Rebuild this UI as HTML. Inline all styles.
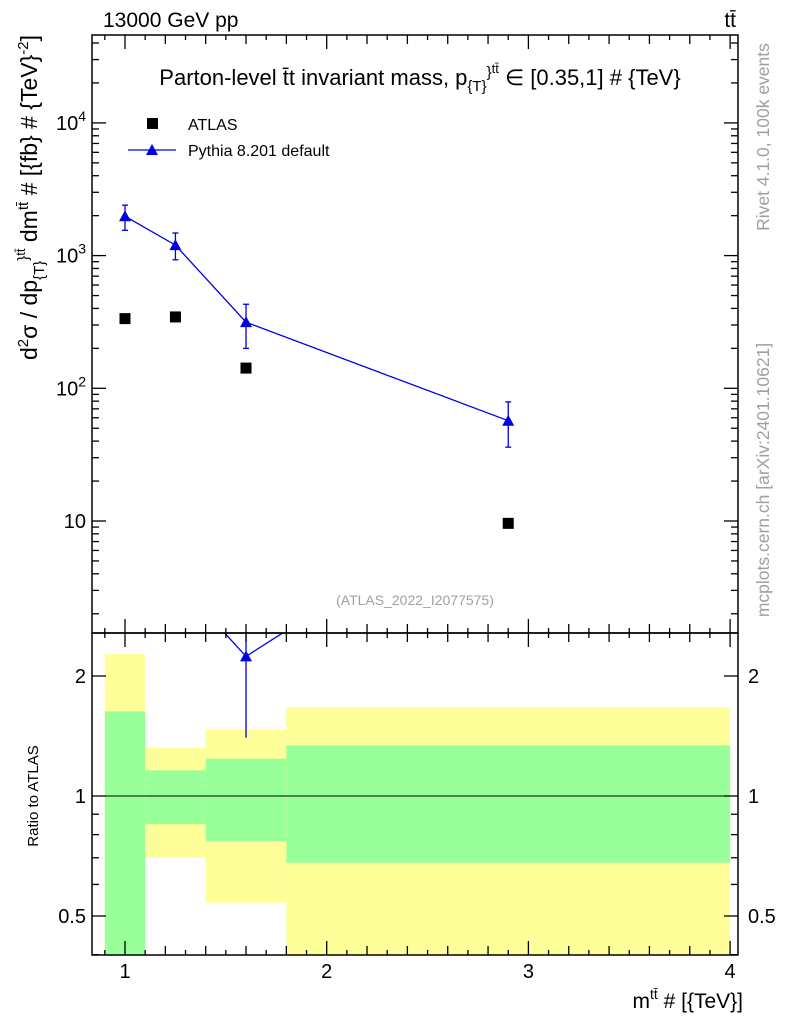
<!DOCTYPE html>
<html><head><meta charset="utf-8"><style>
body{margin:0;background:#fff}
svg text{font-family:"Liberation Sans",sans-serif}
</style></head><body>
<svg id="c" width="786" height="1024" viewBox="0 0 786 1024" xmlns="http://www.w3.org/2000/svg">
</svg>
<script>
const binEdges=[0.9,1.1,1.4,1.8,4.0];
const xCenters=[1.0,1.25,1.6,2.9];
const atlasVals=[335,345,142,9.6];
const pythiaVals=[1980,1200,315,57];
const pythiaLo=[1550,930,200,36];
const pythiaHi=[2400,1480,430,79];
const yellowHi=[2.27,1.32,1.47,1.67];
const yellowLo=[0.3,0.70,0.54,0.3];
const greenHi=[1.63,1.16,1.24,1.34];
const greenLo=[0.3,0.85,0.77,0.68];
const ratioVals=[5.9,3.5,2.24,5.9];
const ratioLo=[4.6,2.7,1.40,3.7];

const NS='http://www.w3.org/2000/svg';
const svg=document.getElementById('c');
function el(tag,attrs,parent){const e=document.createElementNS(NS,tag);for(const k in attrs)e.setAttribute(k,attrs[k]);(parent||svg).appendChild(e);return e;}
const L=92,R=738,T=35,M=633,B=955;
const X=v=>125+(v-1)*201.7;
const Y=v=>521-(Math.log10(v)-1)*132.7;
const YR=v=>796-Math.log2(v)*120;
const clipR=el('clipPath',{id:'cr'});el('rect',{x:L,y:M,width:R-L,height:B-M},clipR);
const clipM=el('clipPath',{id:'cm'});el('rect',{x:L,y:T,width:R-L,height:M-T},clipM);

const gb=el('g',{'clip-path':'url(#cr)'});
for(let i=0;i<4;i++){
 let r=el('rect',{x:X(binEdges[i]),y:YR(yellowHi[i]),width:X(binEdges[i+1])-X(binEdges[i]),height:YR(yellowLo[i])-YR(yellowHi[i]),fill:'#ffff99'},gb);
 
 let g=el('rect',{x:X(binEdges[i]),y:YR(greenHi[i]),width:X(binEdges[i+1])-X(binEdges[i]),height:YR(greenLo[i])-YR(greenHi[i]),fill:'#99ff99'},gb);
 
}
el('line',{x1:L,x2:R,y1:YR(1),y2:YR(1),stroke:'#000','stroke-width':1},gb);
let rp='';for(let i=0;i<4;i++)rp+=(i?'L':'M')+X(xCenters[i])+','+YR(ratioVals[i]);
el('path',{d:rp,stroke:'#0000e0',fill:'none','stroke-width':1.3},gb);
for(let i=0;i<4;i++){
 el('line',{x1:X(xCenters[i]),x2:X(xCenters[i]),y1:YR(ratioLo[i]),y2:YR(ratioVals[i]*1.3),stroke:'#0000e0','stroke-width':1.3},gb);
 const cx=X(xCenters[i]),cy=YR(ratioVals[i]);
 const t=el('path',{d:`M${cx-6},${cy+5}L${cx+6},${cy+5}L${cx},${cy-6}Z`,fill:'#0000e0'},gb);
 
}

const gm=el('g',{'clip-path':'url(#cm)'});
let pp='';for(let i=0;i<4;i++)pp+=(i?'L':'M')+X(xCenters[i])+','+Y(pythiaVals[i]);
el('path',{d:pp,stroke:'#0000e0',fill:'none','stroke-width':1.3},gm);
for(let i=0;i<4;i++){
 const cx=X(xCenters[i]),cy=Y(pythiaVals[i]);
 el('line',{x1:cx,x2:cx,y1:Y(pythiaLo[i]),y2:Y(pythiaHi[i]),stroke:'#0000e0','stroke-width':1.3},gm);
 el('line',{x1:cx-3,x2:cx+3,y1:Y(pythiaLo[i]),y2:Y(pythiaLo[i]),stroke:'#0000e0','stroke-width':1.3},gm);
 el('line',{x1:cx-3,x2:cx+3,y1:Y(pythiaHi[i]),y2:Y(pythiaHi[i]),stroke:'#0000e0','stroke-width':1.3},gm);
 const t=el('path',{d:`M${cx-6},${cy+5}L${cx+6},${cy+5}L${cx},${cy-6}Z`,fill:'#0000e0'},gm);
 
 const a=el('rect',{x:X(xCenters[i])-5.5,y:Y(atlasVals[i])-5.5,width:11,height:11,fill:'#000'},gm);
 
}

el('rect',{x:L,y:T,width:R-L,height:M-T,fill:'none',stroke:'#000','stroke-width':1.5});
el('rect',{x:L,y:M,width:R-L,height:B-M,fill:'none',stroke:'#000','stroke-width':1.5});

for(let v=0.9;v<=4.01;v+=0.1){
 const x=X(v);const k=Math.round(v*10);
 const len=k%10==0?14:(k%2==0?9:5);
 for(const [y0,d] of [[B,-1],[M,-1],[M,1],[T,1]]){
   el('line',{x1:x,x2:x,y1:y0,y2:y0+d*len,stroke:'#000','stroke-width':1.3});
 }
}
[1,2,3,4].forEach(v=>{const t=el('text',{x:X(v),y:978,'text-anchor':'middle','font-size':20});t.textContent=v;
 });

for(let d=0;d<5;d++)for(let m=1;m<10;m++){
 const v=m*Math.pow(10,d);const y=Y(v);if(y<T||y>M)continue;
 const len=m==1?14:7;
 el('line',{x1:L,x2:L+len,y1:y,y2:y,stroke:'#000','stroke-width':1.3});
 el('line',{x1:R,x2:R-len,y1:y,y2:y,stroke:'#000','stroke-width':1.3});
}
function ylab(html,y){const t=el('text',{x:86,y:y+7,'text-anchor':'end','font-size':20});t.innerHTML=html;}
ylab('10',Y(10));ylab('10<tspan dy="-9" font-size="14">2</tspan>',Y(100));ylab('10<tspan dy="-9" font-size="14">3</tspan>',Y(1000));ylab('10<tspan dy="-9" font-size="14">4</tspan>',Y(10000));

[0.4,0.5,0.6,0.7,0.8,0.9,1,2].forEach(v=>{
 const y=YR(v);const len=(v==0.5||v==1||v==2)?14:7;
 el('line',{x1:L,x2:L+len,y1:y,y2:y,stroke:'#000','stroke-width':1.3});
 el('line',{x1:R,x2:R-len,y1:y,y2:y,stroke:'#000','stroke-width':1.3});
});
[[2,'2'],[1,'1'],[0.5,'0.5']].forEach(([v,s])=>{
 let t=el('text',{x:86,y:YR(v)+7,'text-anchor':'end','font-size':20});t.textContent=s;
 t=el('text',{x:748,y:YR(v)+7,'font-size':20});t.textContent=s;
});

function txt(x,y,html,attrs,name){const t=el('text',Object.assign({x:x,y:y},attrs||{}));t.innerHTML=html;return t;}
txt(103,27,'13000 GeV pp',{'font-size':21},'collision-label');
txt(736,27,'tt̄',{'font-size':21,'text-anchor':'end'},'process-label');
txt(420,85,'Parton-level t̄t invariant mass, p<tspan dy="6" font-size="15">{T}</tspan><tspan dy="-14" font-size="15">}</tspan><tspan dy="-4" font-size="13">tt̄</tspan><tspan dy="12"> ∈ [0.35,1] # {TeV}</tspan>',{'font-size':22,'text-anchor':'middle'},'plot-title');
el('rect',{x:147,y:118,width:11,height:11,fill:'#000'});
txt(188,130,'ATLAS',{'font-size':16},'legend-atlas');
el('line',{x1:128,x2:176,y1:150,y2:150,stroke:'#0000e0','stroke-width':1.3});
el('path',{d:'M146,155L158,155L152,144Z',fill:'#0000e0'});
txt(188,156,'Pythia 8.201 default',{'font-size':16},'legend-pythia');
txt(415,605,'(ATLAS_2022_I2077575)',{'font-size':14,fill:'#a0a0a0','text-anchor':'middle'},'analysis-id');
txt(743,1008,'m<tspan dy="-9" font-size="14">tt̄</tspan><tspan dy="9"> # [{TeV}]</tspan>',{'font-size':21,'text-anchor':'end'},'x-axis-title');
txt(0,0,'d<tspan dy="-9" font-size="15">2</tspan><tspan dy="9">σ / dp</tspan><tspan dy="7" font-size="15">{T}</tspan><tspan dy="-16" font-size="15">}</tspan><tspan dy="-3" font-size="13">tt̄</tspan><tspan dy="12"> dm</tspan><tspan dy="-9" font-size="15">tt̄</tspan><tspan dy="9"> # [{fb} # {TeV}</tspan><tspan dy="-9" font-size="15">-2</tspan><tspan dy="9">]</tspan>',{'font-size':23,'text-anchor':'end',transform:'translate(37,35) rotate(-90)'},'y-axis-title');
txt(0,0,'Ratio to ATLAS',{'font-size':15,'text-anchor':'middle',transform:'translate(38,796) rotate(-90)'},'ratio-axis-title');
txt(0,0,'Rivet 4.1.0,  100k events',{'font-size':17.5,fill:'#a0a0a0','text-anchor':'middle',transform:'translate(769,137) rotate(-90)'},'rivet-label');
txt(0,0,'mcplots.cern.ch [arXiv:2401.10621]',{'font-size':17.5,fill:'#a0a0a0','text-anchor':'middle',transform:'translate(769,480) rotate(-90)'},'mcplots-label');
</script>
</body></html>
